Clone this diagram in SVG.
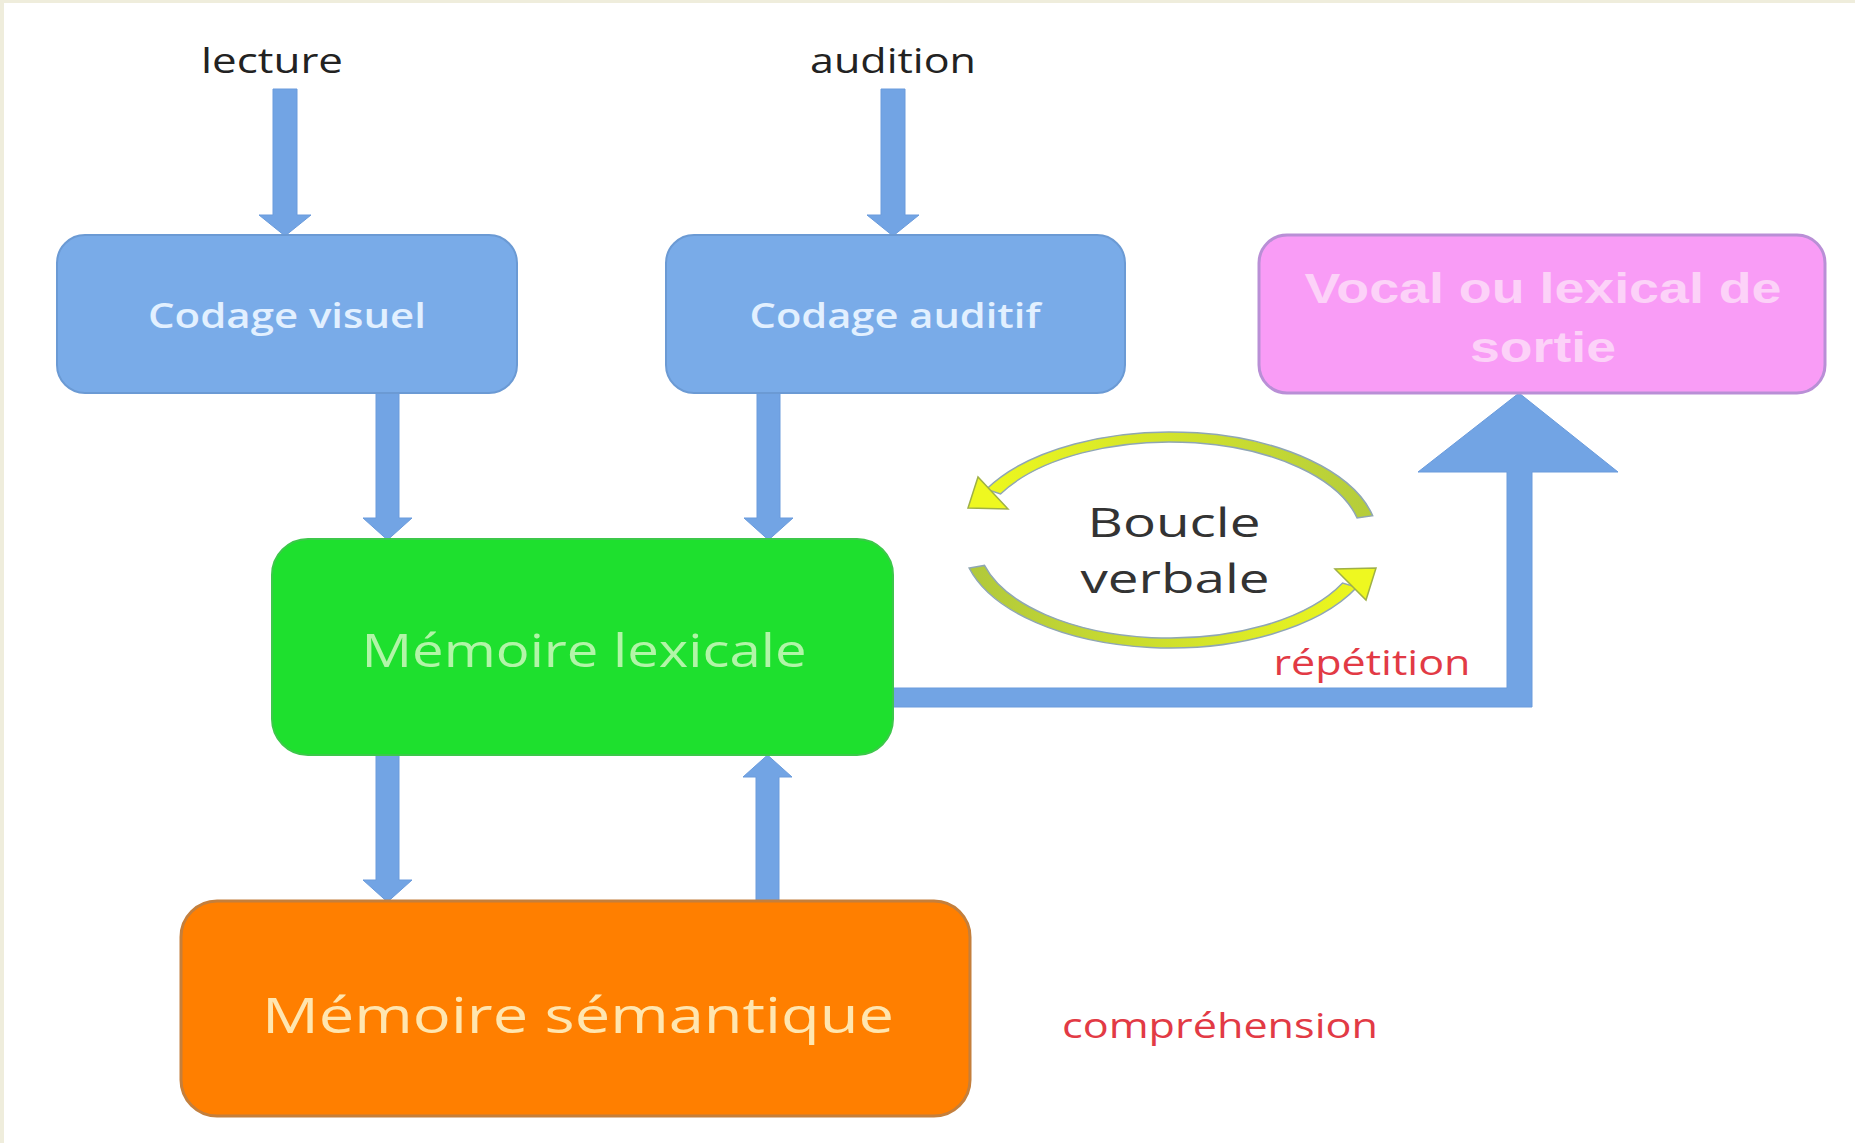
<svg xmlns="http://www.w3.org/2000/svg" width="1855" height="1143" viewBox="0 0 1855 1143">
<defs>
<style>
.box-blue{fill:#79abe8;stroke:#6b9ad4;stroke-width:2}
.arrow{fill:#72a4e4;stroke:#6a9bdc;stroke-width:1}
.lbl{font-family:"Open Sans","Liberation Sans",sans-serif;text-anchor:middle}
.top{font-size:34px;fill:#222;font-weight:500}
.cod{font-size:35px;fill:#e2f0ff;font-weight:600}
.red{font-size:34px;fill:#e23a45;font-weight:500}
.arc{stroke:#8fa6b4;stroke-width:1.5}
.head{fill:#eef820;stroke:#9fb048;stroke-width:1.5}
</style>
<linearGradient id="gTop" gradientUnits="userSpaceOnUse" x1="965" y1="0" x2="1375" y2="0">
<stop offset="0" stop-color="#f0fa1c"/><stop offset="1" stop-color="#b4cc3c"/>
</linearGradient>
<linearGradient id="gBot" gradientUnits="userSpaceOnUse" x1="965" y1="0" x2="1380" y2="0">
<stop offset="0" stop-color="#b0c83c"/><stop offset="1" stop-color="#f0fa1c"/>
</linearGradient>
</defs>
<rect x="0" y="0" width="1855" height="1143" fill="#efeddc"/>
<rect x="4" y="3" width="1851" height="1140" fill="#ffffff"/>

<g id="connectors">
<polygon class="arrow" points="273,89 297,89 297,215 311,215 285,236 259,215 273,215"/>
<polygon class="arrow" points="881,89 905,89 905,215 919,215 893,236 867,215 881,215"/>
<polygon class="arrow" points="376,393 399,393 399,518 412,518 387.5,540 363,518 376,518"/>
<polygon class="arrow" points="757,393 780,393 780,518 793,518 768.5,540 744,518 757,518"/>
<polygon class="arrow" points="376,755 399,755 399,880 412,880 387.5,902 363,880 376,880"/>
<polygon class="arrow" points="756,901 779,901 779,777 792,777 767.5,755 743,777 756,777"/>
<polygon class="arrow" points="893,688 1507,688 1507,472 1418,472 1519,393 1618,472 1532,472 1532,707 893,707"/>
</g>

<text class="lbl top" x="272" y="73" textLength="142" lengthAdjust="spacingAndGlyphs">lecture</text>
<text class="lbl top" x="893" y="73" textLength="166" lengthAdjust="spacingAndGlyphs">audition</text>

<g id="codage-visuel">
<rect class="box-blue" x="57" y="235" width="460" height="158" rx="28"/>
<text class="lbl cod" x="287" y="328" textLength="278" lengthAdjust="spacingAndGlyphs">Codage visuel</text>
</g>

<g id="codage-auditif">
<rect class="box-blue" x="666" y="235" width="459" height="158" rx="28"/>
<text class="lbl cod" x="895" y="328" textLength="291" lengthAdjust="spacingAndGlyphs">Codage auditif</text>
</g>

<g id="vocal">
<rect x="1259" y="235" width="566" height="158" rx="28" fill="#f99cf6" stroke="#b98fd6" stroke-width="3"/>
<text x="1543" y="303" font-family="'Liberation Sans',Arial,sans-serif" font-weight="bold" font-size="42" fill="#fcd2f8" text-anchor="middle" textLength="477" lengthAdjust="spacingAndGlyphs">Vocal ou lexical de</text>
<text x="1543" y="362" font-family="'Liberation Sans',Arial,sans-serif" font-weight="bold" font-size="42" fill="#fcd2f8" text-anchor="middle" textLength="146" lengthAdjust="spacingAndGlyphs">sortie</text>
</g>

<g id="memoire-lexicale">
<rect x="272" y="539" width="621" height="216" rx="36" fill="#1ee02e" stroke="#3cc84a" stroke-width="2"/>
<text class="lbl" x="584" y="667" font-size="45" font-weight="500" fill="#b2f5a8" textLength="445" lengthAdjust="spacingAndGlyphs">Mémoire lexicale</text>
</g>

<g id="memoire-semantique">
<rect x="181" y="901" width="789" height="215" rx="36" fill="#ff7f00" stroke="#c47f3c" stroke-width="3"/>
<text class="lbl" x="578" y="1033" font-size="49" fill="#ffe6b0" textLength="632" lengthAdjust="spacingAndGlyphs">Mémoire sémantique</text>
</g>

<g id="boucle-verbale">
<path class="arc" fill="url(#gTop)" d="M 1372.7 515.7 A 208 108 0 0 0 986.3 489.3 L 1000.5 494 A 192 98 0 0 1 1357.1 518 Z"/>
<polygon class="head" points="1008,509 978,477 968,508"/>
<path class="arc" fill="url(#gBot)" d="M 969.1 568 A 208 108 0 0 0 1356.9 587.3 L 1342.6 583 A 192 98 0 0 1 984.5 565.4 Z"/>
<polygon class="head" points="1335,569 1366,600 1376,568"/>
<text class="lbl" x="1174" y="537" font-size="40" font-weight="500" fill="#333333" textLength="173" lengthAdjust="spacingAndGlyphs">Boucle</text>
<text class="lbl" x="1175" y="593" font-size="40" font-weight="500" fill="#333333" textLength="189" lengthAdjust="spacingAndGlyphs">verbale</text>
</g>

<text class="lbl red" x="1372" y="675" textLength="197" lengthAdjust="spacingAndGlyphs">répétition</text>
<text class="lbl red" x="1220" y="1038" font-size="36" textLength="316" lengthAdjust="spacingAndGlyphs">compréhension</text>
</svg>
